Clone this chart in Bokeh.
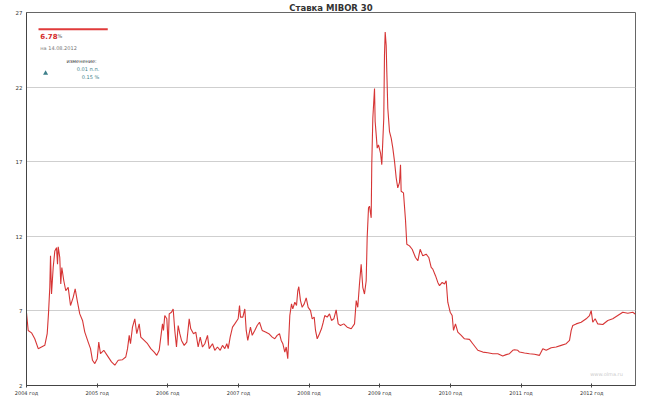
from bokeh.plotting import figure
from bokeh.models import FixedTicker, Label, Range1d
from bokeh.embed import file_html
from bokeh.resources import INLINE

# MIBOR 30 rate, decimal year vs percent
years = [
    2004.000, 2004.024, 2004.071, 2004.117, 2004.166, 2004.212, 2004.259, 2004.293, 2004.311, 2004.330,
    2004.340, 2004.354, 2004.378, 2004.401, 2004.425, 2004.439, 2004.449, 2004.471, 2004.485, 2004.500,
    2004.528, 2004.556, 2004.590, 2004.623, 2004.661, 2004.689, 2004.718, 2004.754, 2004.793, 2004.825,
    2004.873, 2004.906, 2004.934, 2004.967, 2005.001, 2005.023, 2005.047, 2005.094, 2005.142, 2005.203,
    2005.250, 2005.298, 2005.359, 2005.405, 2005.430, 2005.454, 2005.472,
    2005.500, 2005.533, 2005.561, 2005.595, 2005.618, 2005.666, 2005.713, 2005.759, 2005.807, 2005.844,
    2005.878, 2005.901, 2005.925, 2005.939, 2005.957, 2005.986, 2006.006, 2006.020, 2006.052, 2006.076,
    2006.099, 2006.123, 2006.147, 2006.170, 2006.194, 2006.232, 2006.269, 2006.303, 2006.325, 2006.364,
    2006.396, 2006.430, 2006.459, 2006.491, 2006.524, 2006.562, 2006.586, 2006.633, 2006.665, 2006.703,
    2006.742, 2006.774, 2006.807, 2006.835, 2006.855, 2006.883, 2006.916, 2006.948,
    2006.996, 2007.015, 2007.029, 2007.062, 2007.090, 2007.110, 2007.132, 2007.170, 2007.195, 2007.231,
    2007.265, 2007.298, 2007.336, 2007.383, 2007.430, 2007.478, 2007.514, 2007.548, 2007.581, 2007.605,
    2007.628, 2007.656, 2007.676, 2007.698, 2007.713, 2007.727, 2007.751, 2007.769, 2007.798, 2007.822,
    2007.840, 2007.854, 2007.878, 2007.902, 2007.931, 2007.959, 2007.987, 2008.020, 2008.044, 2008.072,
    2008.091, 2008.115, 2008.147, 2008.175, 2008.200, 2008.222, 2008.256, 2008.289, 2008.317, 2008.350,
    2008.383, 2008.412, 2008.444, 2008.491, 2008.539,
    2008.596, 2008.643, 2008.667, 2008.689, 2008.713, 2008.737, 2008.760, 2008.784, 2008.808, 2008.822,
    2008.841, 2008.855, 2008.879, 2008.887, 2008.902, 2008.926, 2008.935, 2008.950, 2008.964, 2008.982,
    2009.011, 2009.029, 2009.043, 2009.057, 2009.067, 2009.077, 2009.091, 2009.100, 2009.114, 2009.138,
    2009.162, 2009.185, 2009.209, 2009.233, 2009.255, 2009.279, 2009.294, 2009.303, 2009.336, 2009.364,
    2009.383, 2009.421, 2009.459, 2009.506, 2009.539, 2009.572, 2009.609, 2009.657, 2009.694, 2009.728,
    2009.751, 2009.789, 2009.822, 2009.846, 2009.884, 2009.916, 2009.940, 2009.963, 2009.997, 2010.025,
    2010.044, 2010.072, 2010.105, 2010.153, 2010.199, 2010.270, 2010.317, 2010.388, 2010.459, 2010.529,
    2010.600, 2010.671, 2010.741, 2010.790, 2010.836, 2010.883, 2010.907, 2010.954, 2010.978, 2011.049,
    2011.119, 2011.190, 2011.261, 2011.308, 2011.356, 2011.427, 2011.497, 2011.568, 2011.639, 2011.686,
    2011.710, 2011.732, 2011.780, 2011.851, 2011.922, 2011.969, 2011.993, 2012.015, 2012.049, 2012.086,
    2012.157, 2012.228, 2012.298, 2012.369, 2012.440, 2012.511, 2012.581, 2012.620,
]
rate = [
    6.87, 5.69, 5.53, 5.13, 4.47, 4.58, 4.69, 5.47, 6.80, 8.60,
    10.69, 8.13, 9.93, 11.02, 11.24, 10.13, 11.29, 10.58, 8.80, 9.91,
    9.02, 8.35, 8.58, 7.36, 7.91, 8.47, 7.69, 6.80, 6.36, 5.58,
    4.91, 4.47, 3.69, 3.47, 3.80, 4.91, 4.13, 4.36, 4.02, 3.58,
    3.36, 3.69, 3.73, 3.91, 4.47, 5.36, 4.80,
    5.91, 6.47, 5.47, 6.13, 5.24, 5.02, 4.80, 4.47, 4.24, 4.02,
    4.36, 5.24, 6.13, 5.69, 6.69, 6.47, 4.69, 6.80, 6.91, 7.13,
    5.69, 4.58, 6.02, 5.47, 5.02, 4.69, 4.91, 6.47, 5.80, 5.47,
    5.58, 4.58, 5.24, 4.58, 4.80, 5.36, 4.47, 4.80, 4.36, 4.58,
    4.36, 4.69, 4.47, 4.80, 4.47, 5.24, 5.91, 6.13,
    6.47, 7.36, 6.58, 6.58, 7.13, 5.69, 5.02, 5.91, 5.36, 5.69,
    6.02, 6.24, 5.69, 5.58, 5.47, 5.24, 5.13, 5.36, 5.47, 5.02,
    4.80, 4.24, 4.58, 3.80, 5.24, 6.69, 7.47, 7.13, 7.58, 7.36,
    8.35, 8.62, 7.69, 7.24, 7.47, 7.87, 7.24, 7.02, 6.47, 6.58,
    5.69, 5.13, 5.47, 5.80, 6.24, 6.69, 6.58, 6.80, 6.36, 6.47,
    7.07, 6.13, 6.02, 6.13, 5.91,
    5.80, 6.13, 7.69, 7.24, 8.80, 10.13, 8.58, 8.13, 9.02, 11.91,
    13.91, 14.02, 13.24, 16.80, 19.91, 21.91, 19.69, 18.80, 17.91, 18.13,
    17.58, 16.80, 18.35, 19.91, 24.13, 25.69, 24.80, 23.02, 20.58, 19.02,
    18.58, 17.91, 17.02, 15.91, 15.24, 15.60, 16.80, 15.02, 14.91, 13.13,
    11.47, 11.36, 11.13, 10.58, 10.36, 11.13, 10.69, 10.80, 10.58, 9.91,
    9.80, 9.36, 8.91, 8.69, 8.91, 8.80, 9.02, 7.58, 6.91, 6.69,
    5.69, 6.13, 5.58, 5.36, 5.13, 5.09, 4.80, 4.36, 4.24, 4.20,
    4.13, 4.13, 3.98, 4.07, 4.13, 4.36, 4.40, 4.36, 4.24, 4.18,
    4.13, 4.09, 4.02, 4.47, 4.36, 4.53, 4.58, 4.69, 4.80, 5.02,
    5.69, 6.02, 6.13, 6.24, 6.47, 6.69, 7.02, 6.24, 6.47, 6.13,
    6.09, 6.36, 6.47, 6.69, 6.91, 6.84, 6.91, 6.78,
]

year_ticks = [2004, 2005, 2006, 2007, 2008, 2009, 2010, 2011, 2012]
year_labels = [f"{y} год" for y in year_ticks]
y_ticks = [2, 7, 12, 17, 22, 27]

title = "Ставка MIBOR 30"
last_value = "6.78"
last_date = "на 14.08.2012"
change_pp = "0.01 п.п."
change_pct = "0.15 %"

FONT = "DejaVu Sans"

p = figure(width=640, height=398, output_backend="svg", toolbar_location=None,
           x_range=Range1d(2004.0, 2012.62), y_range=Range1d(2, 27),
           min_border_left=26, min_border_right=5, min_border_top=0, min_border_bottom=9)

p.title.text = title
p.title.align = "center"
p.title.text_font = FONT
p.title.text_font_size = "8.5px"
p.title.text_color = "#333333"
p.title.standoff = 0
p.title.offset = 0

p.background_fill_color = "white"
p.outline_line_color = "#666666"
p.outline_line_width = 1

p.line(years, rate, line_color="#d42a2a", line_width=1.1, line_alpha=0.95)

# axes
p.xaxis.ticker = FixedTicker(ticks=year_ticks)
p.xaxis.major_label_overrides = {y: l for y, l in zip(year_ticks, year_labels)}
p.xaxis.major_label_text_font = FONT
p.xaxis.major_label_text_font_size = "5px"
p.xaxis.major_label_text_color = "#333333"
p.xaxis.major_label_standoff = 2
p.xaxis.major_tick_in = 2
p.xaxis.major_tick_out = 2
p.xaxis.minor_tick_line_color = None
p.xaxis.axis_line_color = "#444444"
p.xaxis.major_tick_line_color = "#444444"

p.yaxis.ticker = FixedTicker(ticks=y_ticks)
p.yaxis.major_label_text_font = FONT
p.yaxis.major_label_text_font_size = "5.5px"
p.yaxis.major_label_text_color = "#333333"
p.yaxis.major_label_standoff = 4
p.yaxis.major_tick_in = 0
p.yaxis.major_tick_out = 0
p.yaxis.minor_tick_line_color = None
p.yaxis.axis_line_color = "#444444"

p.xgrid.grid_line_color = None
p.ygrid.grid_line_color = "#cfcfcf"
p.ygrid.grid_line_width = 1

# info block (top-left)
p.line([2004.17, 2005.15], [25.87, 25.87], line_color="#e03a3a", line_width=2)
p.add_layout(Label(x=2004.195, y=25.45, text=last_value, text_font=FONT, text_font_size="7px",
                   text_font_style="bold", text_color="#d42a2a", text_baseline="middle"))
p.add_layout(Label(x=2004.44, y=25.45, text="%", text_font=FONT, text_font_size="5px",
                   text_color="#555555", text_baseline="middle"))
p.add_layout(Label(x=2004.195, y=24.6, text=last_date, text_font=FONT, text_font_size="5px",
                   text_color="#777777", text_baseline="middle"))
p.add_layout(Label(x=2004.78, y=23.73, text="изменение:", text_font=FONT, text_font_size="5px",
                   text_color="#333333", text_baseline="middle", text_align="center"))
p.scatter([2004.27], [22.93], marker="triangle", size=5, fill_color="#3d7f8a", line_color=None)
p.add_layout(Label(x=2005.03, y=23.2, text=change_pp, text_font=FONT, text_font_size="5px",
                   text_color="#3d7f8a", text_baseline="middle", text_align="right"))
p.add_layout(Label(x=2005.03, y=22.67, text=change_pct, text_font=FONT, text_font_size="5px",
                   text_color="#3d7f8a", text_baseline="middle", text_align="right"))

p.add_layout(Label(x=2012.21, y=2.8, text="www.olma.ru", text_font=FONT, text_font_size="5px",
                   text_color="#cccccc", text_baseline="middle", text_align="center"))

open("out.html", "w").write(file_html(p, INLINE))
